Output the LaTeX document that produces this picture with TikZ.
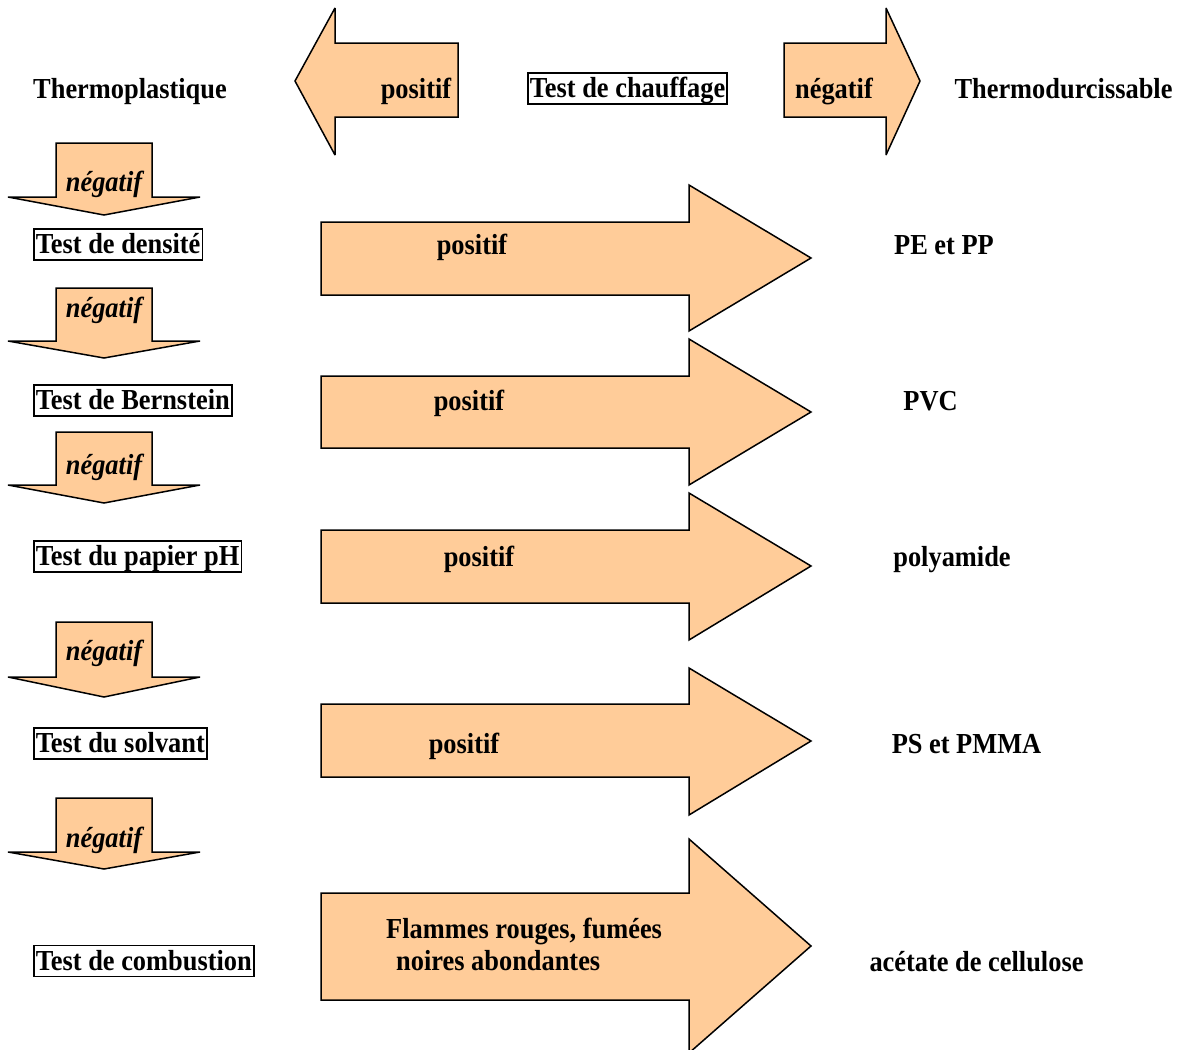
\documentclass[tikz,border=0pt]{standalone}
\usepackage{fontspec}
\setmainfont{Liberation Serif}[FakeStretch=0.91]
\usepackage{xcolor}
\usepackage{tikz}
\definecolor{peach}{RGB}{255,204,153}
\tikzset{
    lbl/.style={font=\fontsize{29}{32}\selectfont\bfseries, text height=23pt, text depth=5pt, inner xsep=2pt, inner ysep=1.5pt},
    neg/.style={lbl, font=\fontsize{29}{32}\selectfont\bfseries\itshape},
    testbox/.style={draw, line width=1.5pt},
    fatarrow/.style={draw, line width=1.5pt, miter limit=4, fill=peach},
}

\begin{document}
\begin{tikzpicture}[x=1pt, y=-1pt]
        \useasboundingbox (0,0) rectangle (1179,1050);
        % heating test
        \draw[fatarrow] (458,43) -- (335,43) -- (335,8) -- (295,81) -- (335,155) -- (335,117) -- (458,117) -- cycle;
        \draw[fatarrow] (784,43) -- (886,43) -- (886,8) -- (920,81) -- (886,155) -- (886,117) -- (784,117) -- cycle;
        \node[lbl] (thermoP) at (130,89.5) {Thermoplastique};
        \node[lbl] (posTop) at (416,89.5) {positif};
        \node[lbl, testbox] (heat) at (627.5,88.5) {Test de chauffage};
        \node[lbl] (negTop) at (834,89.5) {négatif};
        \node[lbl] (thermoD) at (1063.5,89.5) {Thermodurcissable};

        % negative branch going down
        \draw[fatarrow] (56,143) -- (152,143) -- (152,197) -- (200,197) -- (104,215) -- (8,197) -- (56,197) -- cycle;
        \draw[fatarrow] (56,288) -- (152,288) -- (152,341) -- (200,341) -- (104,358) -- (8,341) -- (56,341) -- cycle;
        \draw[fatarrow] (56,432) -- (152,432) -- (152,485) -- (200,485) -- (104,503) -- (8,485) -- (56,485) -- cycle;
        \draw[fatarrow] (56,622) -- (152,622) -- (152,677) -- (200,677) -- (104,697) -- (8,677) -- (56,677) -- cycle;
        \draw[fatarrow] (56,798) -- (152,798) -- (152,852) -- (200,852) -- (104,869) -- (8,852) -- (56,852) -- cycle;
        \node[neg] (neg1) at (104,182) {négatif};
        \node[neg] (neg2) at (104,308) {négatif};
        \node[neg] (neg3) at (104,465) {négatif};
        \node[neg] (neg4) at (104,651) {négatif};
        \node[neg] (neg5) at (104,838) {négatif};

        % tests
        \node[lbl, testbox, anchor=west] (density) at (33,244.5) {Test de densité};
        \node[lbl, testbox, anchor=west] (bernstein) at (33,400.5) {Test de Bernstein};
        \node[lbl, testbox, anchor=west] (ph) at (33,556.5) {Test du papier pH};
        \node[lbl, testbox, anchor=west] (solvent) at (33,743.5) {Test du solvant};
        \node[lbl, testbox, anchor=west] (combustion) at (33,961) {Test de combustion};

        % positive results
        \draw[fatarrow] (321,222) -- (689,222) -- (689,185) -- (811,258) -- (689,331) -- (689,295) -- (321,295) -- cycle;
        \draw[fatarrow] (321,376) -- (689,376) -- (689,339) -- (811,412) -- (689,485) -- (689,448) -- (321,448) -- cycle;
        \draw[fatarrow] (321,530) -- (689,530) -- (689,493) -- (811,566) -- (689,640) -- (689,603) -- (321,603) -- cycle;
        \draw[fatarrow] (321,704) -- (689,704) -- (689,668) -- (811,741) -- (689,815) -- (689,777) -- (321,777) -- cycle;
        \draw[fatarrow] (321,893) -- (689,893) -- (689,839) -- (811,946) -- (689,1053) -- (689,1000) -- (321,1000) -- cycle;
        \node[lbl] (pos1) at (472,245.5) {positif};
        \node[lbl] (pos2) at (469,401.5) {positif};
        \node[lbl] (pos3) at (479,557.5) {positif};
        \node[lbl] (pos4) at (464,744.5) {positif};
        \node[font=\fontsize{29}{32}\selectfont\bfseries, align=left, anchor=west, inner sep=0pt] (flames) at (386,944.5) {Flammes rouges, fumées\\\hspace*{10pt}noires abondantes};

        \node[lbl] (pepp) at (944,245.5) {PE et PP};
        \node[lbl] (pvc) at (930.5,401.5) {PVC};
        \node[lbl] (pa) at (952,557.5) {polyamide};
        \node[lbl] (pspmma) at (966.5,744.5) {PS et PMMA};
        \node[lbl] (ca) at (976.5,962) {acétate de cellulose};
    \end{tikzpicture}
\end{document}
